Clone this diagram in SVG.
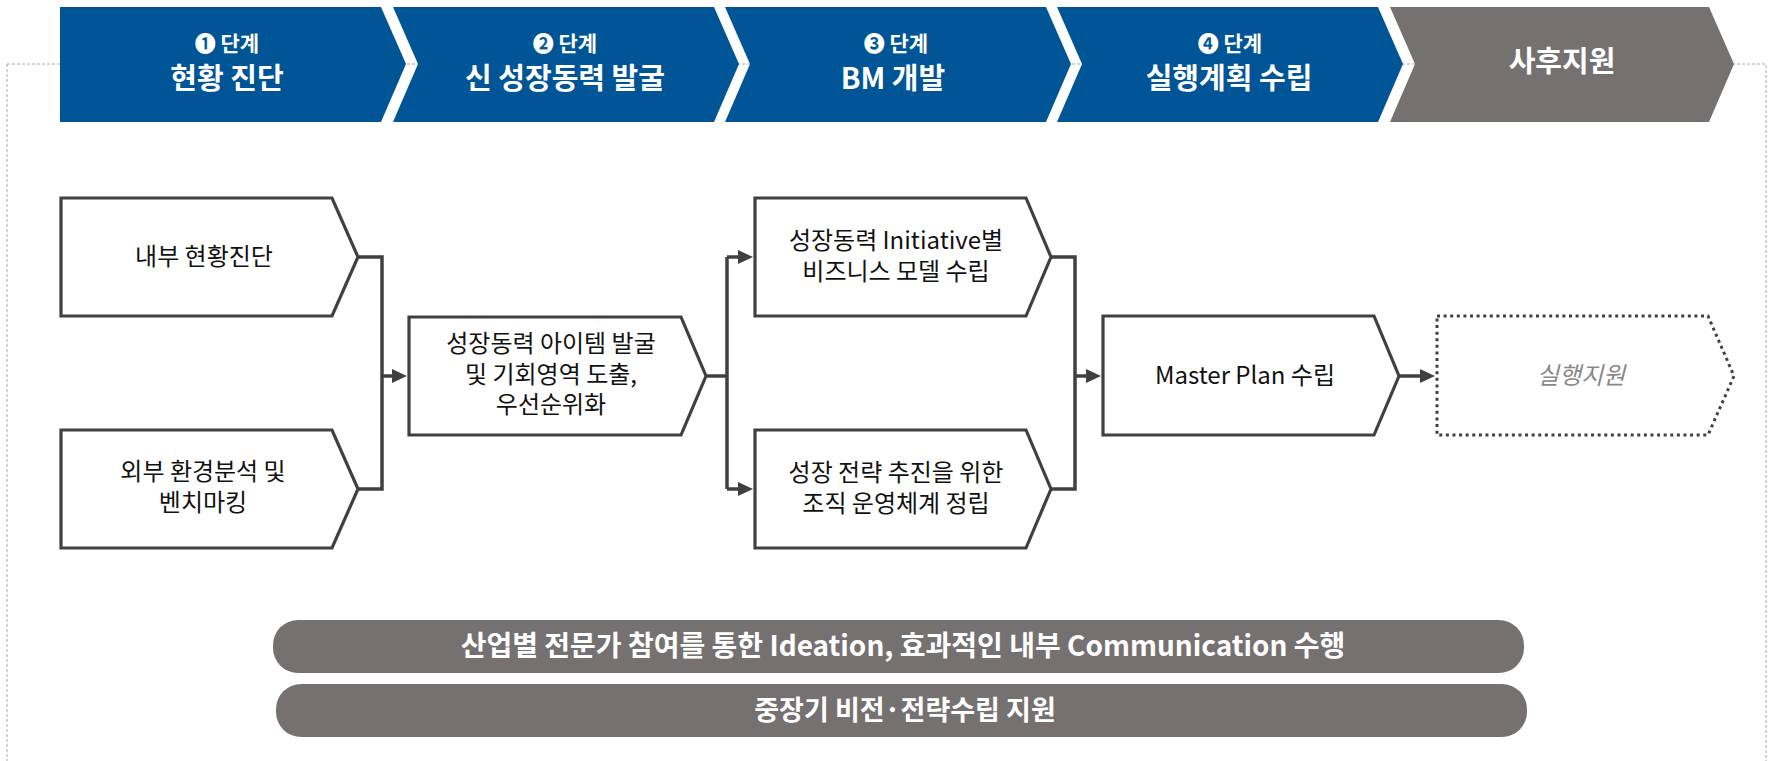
<svg xmlns="http://www.w3.org/2000/svg" width="1770" height="761" viewBox="0 0 1770 761">
<style>
.hdr{fill:#005596}
.hdrg{fill:#767171}
.ht1{font-family:"Noto Sans CJK KR","Noto Sans",sans-serif;font-weight:700;font-size:21px;fill:#fff;text-anchor:middle}
.ht2{font-family:"Noto Sans CJK KR","Noto Sans",sans-serif;font-weight:700;font-size:29px;fill:#fff;text-anchor:middle}
.node{fill:#fff;stroke:#404040;stroke-width:3.2;stroke-linejoin:miter}
.dot{fill:#fff;stroke:#404040;stroke-width:3;stroke-dasharray:3 3.6}
.nt{font-family:"Noto Sans CJK KR","Noto Sans",sans-serif;font-size:24px;fill:#111;text-anchor:middle}
.it{font-family:"Noto Sans CJK KR","Noto Sans",sans-serif;font-size:24px;fill:#888;text-anchor:middle;font-style:italic}
.ln{fill:none;stroke:#404040;stroke-width:3.5;stroke-linejoin:miter}
.bar{fill:#767171}
.bt{font-family:"Noto Sans CJK KR","Noto Sans",sans-serif;font-weight:700;font-size:28px;fill:#fff;text-anchor:middle}
.bt2{font-family:"Noto Sans CJK KR","Noto Sans",sans-serif;font-weight:700;font-size:27px;fill:#fff;text-anchor:middle}
</style>
<defs>
<marker id="ah" viewBox="0 0 15 14" refX="5" refY="7" markerWidth="15" markerHeight="14" markerUnits="userSpaceOnUse" orient="auto">
<path d="M0,0 L15,7 L0,14 Z" fill="#404040"/>
</marker>
</defs>
<rect width="1770" height="761" fill="#fff"/>
<rect id="frame" x="7" y="64" width="1759" height="720" fill="none" stroke="#aaa" stroke-width="1" stroke-dasharray="3 2"/>

<g id="stage1">
<path class="hdr" d="M60,7 L381,7 L406,64 L381,122 L60,122 Z"/>
<text class="ht1" x="227" y="51">❶ 단계</text>
<text class="ht2" x="227" y="89">현황 진단</text>
</g>
<g id="stage2">
<path class="hdr" d="M393,7 L714,7 L739,64 L714,122 L393,122 L418,64 Z"/>
<text class="ht1" x="565" y="51">❷ 단계</text>
<text class="ht2" x="565" y="89">신 성장동력 발굴</text>
</g>
<g id="stage3">
<path class="hdr" d="M725,7 L1046,7 L1071,64 L1046,122 L725,122 L750,64 Z"/>
<text class="ht1" x="896" y="51">❸ 단계</text>
<text class="ht2" x="893" y="89">BM 개발</text>
</g>
<g id="stage4">
<path class="hdr" d="M1057,7 L1378,7 L1403,64 L1378,122 L1057,122 L1082,64 Z"/>
<text class="ht1" x="1230" y="51">❹ 단계</text>
<text class="ht2" x="1229" y="89">실행계획 수립</text>
</g>
<g id="stage5">
<path class="hdrg" d="M1390,7 L1709,7 L1734,64 L1709,122 L1390,122 L1415,64 Z"/>
<text class="ht2" x="1562" y="72">사후지원</text>
</g>

<g id="connectors">
<path class="ln" d="M358,257 H382 V489 H358"/>
<path class="ln" d="M382,376 H397" marker-end="url(#ah)"/>
<path class="ln" d="M706,376 H727"/>
<path class="ln" d="M727,257 V489"/>
<path class="ln" d="M727,257 H743" marker-end="url(#ah)"/>
<path class="ln" d="M727,489 H743" marker-end="url(#ah)"/>
<path class="ln" d="M1051,257 H1075 V489 H1051"/>
<path class="ln" d="M1075,376 H1091" marker-end="url(#ah)"/>
<path class="ln" d="M1399,376 H1425" marker-end="url(#ah)"/>
</g>

<g id="n1">
<path class="node" d="M61,198 L332,198 L358,257 L332,316 L61,316 Z"/>
<text class="nt" x="204" y="265">내부 현황진단</text>
</g>
<g id="n2">
<path class="node" d="M61,430 L332,430 L358,489 L332,548 L61,548 Z"/>
<text class="nt" x="203" y="480">외부 환경분석 및</text>
<text class="nt" x="203" y="511">벤치마킹</text>
</g>
<g id="n3">
<path class="node" d="M409,317 L681,317 L706,376 L681,435 L409,435 Z"/>
<text class="nt" x="551" y="352">성장동력 아이템 발굴</text>
<text class="nt" x="551" y="383">및 기회영역 도출,</text>
<text class="nt" x="551" y="413">우선순위화</text>
</g>
<g id="n4">
<path class="node" d="M755,198 L1026,198 L1051,257 L1026,316 L755,316 Z"/>
<text class="nt" x="896" y="249">성장동력 Initiative별</text>
<text class="nt" x="896" y="280">비즈니스 모델 수립</text>
</g>
<g id="n5">
<path class="node" d="M755,430 L1026,430 L1051,489 L1026,548 L755,548 Z"/>
<text class="nt" x="896" y="481">성장 전략 추진을 위한</text>
<text class="nt" x="896" y="512">조직 운영체계 정립</text>
</g>
<g id="n6">
<path class="node" d="M1103,316 L1374,316 L1399,376 L1374,435 L1103,435 Z"/>
<text class="nt" x="1245" y="384">Master Plan 수립</text>
</g>
<g id="n7">
<path class="dot" d="M1437,316 L1708,316 L1734,376 L1708,435 L1437,435 Z"/>
<text class="it" x="1581" y="384">실행지원</text>
</g>

<g id="bar1">
<rect class="bar" x="273" y="620" width="1251" height="53" rx="25" ry="25"/>
<text class="bt" x="903" y="656">산업별 전문가 참여를 통한 Ideation, 효과적인 내부 Communication 수행</text>
</g>
<g id="bar2">
<rect class="bar" x="276" y="684" width="1251" height="53" rx="25" ry="25"/>
<text class="bt2" x="905" y="720">중장기 비전·전략수립 지원</text>
</g>
</svg>
